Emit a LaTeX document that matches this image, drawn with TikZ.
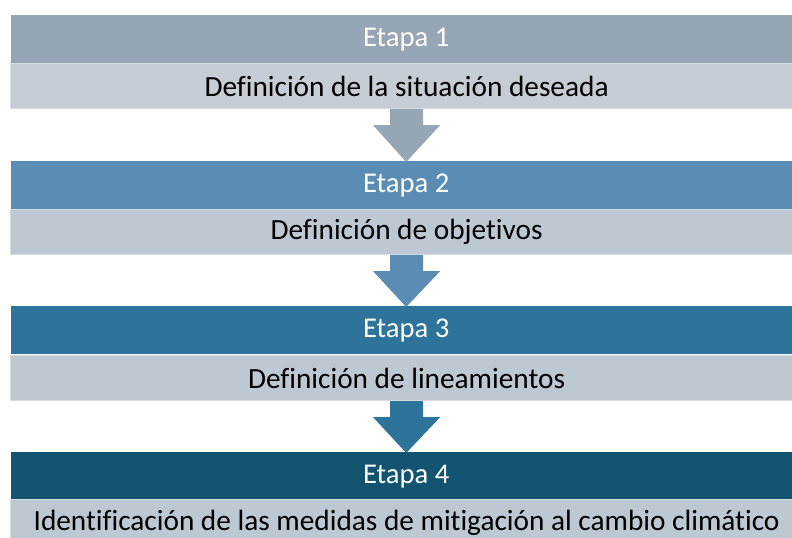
\documentclass[tikz,border=0pt]{standalone}
\usepackage{fontspec}
\setmainfont[Ligatures=NoCommon]{Carlito}
\usetikzlibrary{calc}
\definecolor{hA}{HTML}{96A6B4}
\definecolor{hB}{HTML}{5B8DB4}
\definecolor{hC}{HTML}{2E739A}
\definecolor{hD}{HTML}{12546F}
\definecolor{lA}{HTML}{C6CDD4}
\definecolor{lB}{HTML}{BDC8D2}
\definecolor{lEdge}{HTML}{D6DBE0}
\tikzset{
  x=1bp, y=-1bp,
  hdr/.style={anchor=north west, inner sep=0pt, minimum width=790bp, minimum height=48bp,
    text=white, font=\fontsize{28.6bp}{32bp}\selectfont},
  lite/.style={anchor=north west, inner sep=0pt, minimum width=793bp, minimum height=45bp,
    draw=lEdge, line width=1.2bp, text=black, font=\fontsize{29.3bp}{32bp}\selectfont},
}
\newcommand{\blockarrow}[3]{%
  \fill[#1] ($(#2.south)+(-16.5,0)$) -- ($(#2.south)+(-16.5,16)$) -- ($(#2.south)+(-33.5,16)$)
    -- ($(#3.north)+(0,1)$) -- ($(#2.south)+(33.5,16)$) -- ($(#2.south)+(16.5,16)$)
    -- ($(#2.south)+(16.5,0)$) -- cycle;}
\begin{document}
\begin{tikzpicture}
\useasboundingbox (0,0) rectangle (792,538);
\clip (0,0) rectangle (792,538);
\node[hdr, fill=hA] (h1) at (11,15) {Etapa 1};
\node[lite, fill=lA] (l1) at (9.5,63) {Definición de la situación deseada};
\node[hdr, fill=hB] (h2) at (11,161) {Etapa 2};
\node[lite, fill=lB] (l2) at (9.5,209) {Definición de objetivos};
\node[hdr, fill=hC] (h3) at (11,306) {Etapa 3};
\node[lite, fill=lB] (l3) at (9.5,355) {Definición de lineamientos};
\node[hdr, fill=hD] (h4) at (11,452) {Etapa 4};
\node[lite, fill=lB, minimum height=46bp] (l4) at (9.5,499) {Identificación de las medidas de mitigación al cambio climático};
\blockarrow{hA}{l1}{h2}
\blockarrow{hB}{l2}{h3}
\blockarrow{hC}{l3}{h4}
\end{tikzpicture}
\end{document}
